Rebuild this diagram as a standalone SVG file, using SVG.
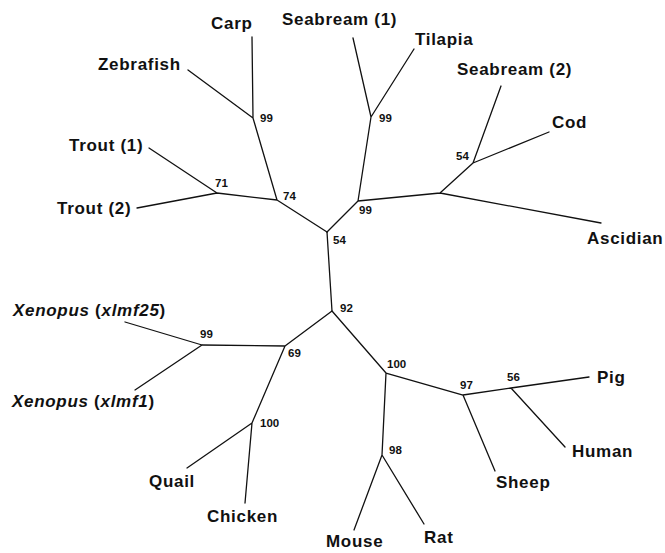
<svg xmlns="http://www.w3.org/2000/svg" width="665" height="553" viewBox="0 0 665 553">
<style>
.e{stroke:#111;stroke-width:1.3;fill:none;stroke-linecap:round}
.t{font-family:"Liberation Sans",Arial,sans-serif;font-weight:bold;font-size:17px;letter-spacing:0.7px;fill:#111}
.b{font-family:"Liberation Sans",Arial,sans-serif;font-weight:bold;font-size:11.5px;fill:#111}
.i{font-style:italic}
</style>
<rect width="665" height="553" fill="#fff"/>
<g id="connectors">
<path class="e" d="M327,232L277,200M277,200L253,118M253,118L252,37M253,118L188,70M277,200L217,193M217,193L149,148M217,193L137,208"/>
<path class="e" d="M327,232L358,201M358,201L371,117M371,117L353,38M371,117L414,49M358,201L440,193M440,193L473,163M473,163L501,86M473,163L549,132M440,193L601,223"/>
<path class="e" d="M327,232L332,311M332,311L285,346M285,346L202,345M202,345L125,322M202,345L135,390M285,346L252,423M252,423L187,468M252,423L245,503"/>
<path class="e" d="M332,311L386,373M386,373L463,395M463,395L511,388M511,388L589,377M511,388L565,447M463,395L495,471M386,373L382,455M382,455L354,530M382,455L424,524"/>
</g>
<g id="carp"><text class="t" x="211" y="29">Carp</text></g>
<g id="zebrafish"><text class="t" x="98" y="70">Zebrafish</text></g>
<g id="trout1"><text class="t" x="69" y="151">Trout (1)</text></g>
<g id="trout2"><text class="t" x="57" y="214">Trout (2)</text></g>
<g id="seabream1"><text class="t" x="282" y="25">Seabream (1)</text></g>
<g id="tilapia"><text class="t" x="415" y="45">Tilapia</text></g>
<g id="seabream2"><text class="t" x="457" y="75">Seabream (2)</text></g>
<g id="cod"><text class="t" x="552" y="128">Cod</text></g>
<g id="ascidian"><text class="t" x="587" y="244">Ascidian</text></g>
<g id="xenopus25"><text class="t" x="13" y="316"><tspan class="i">Xenopus</tspan> (<tspan class="i">xlmf25</tspan>)</text></g>
<g id="xenopus1"><text class="t" x="12" y="407"><tspan class="i">Xenopus</tspan> (<tspan class="i">xlmf1</tspan>)</text></g>
<g id="quail"><text class="t" x="149" y="487">Quail</text></g>
<g id="chicken"><text class="t" x="207" y="522">Chicken</text></g>
<g id="mouse"><text class="t" x="326" y="547">Mouse</text></g>
<g id="rat"><text class="t" x="424" y="543">Rat</text></g>
<g id="pig"><text class="t" x="597" y="383">Pig</text></g>
<g id="human"><text class="t" x="572" y="457">Human</text></g>
<g id="sheep"><text class="t" x="496" y="488">Sheep</text></g>
<g id="n99-carp"><text class="b" x="260" y="122">99</text></g>
<g id="n74"><text class="b" x="283" y="200">74</text></g>
<g id="n71"><text class="b" x="215" y="187">71</text></g>
<g id="n99-tilapia"><text class="b" x="379" y="122">99</text></g>
<g id="n99-perc"><text class="b" x="359" y="214">99</text></g>
<g id="n54-root"><text class="b" x="333" y="244">54</text></g>
<g id="n54-cod"><text class="b" x="456" y="159.5">54</text></g>
<g id="n-asc"></g>
<g id="n92"><text class="b" x="340" y="312">92</text></g>
<g id="n69"><text class="b" x="288" y="357">69</text></g>
<g id="n99-xen"><text class="b" x="200" y="338">99</text></g>
<g id="n100-bird"><text class="b" x="260" y="427">100</text></g>
<g id="n100-mam"><text class="b" x="387" y="368">100</text></g>
<g id="n97"><text class="b" x="460" y="389">97</text></g>
<g id="n56"><text class="b" x="507" y="381">56</text></g>
<g id="n98"><text class="b" x="389" y="454">98</text></g>
</svg>
